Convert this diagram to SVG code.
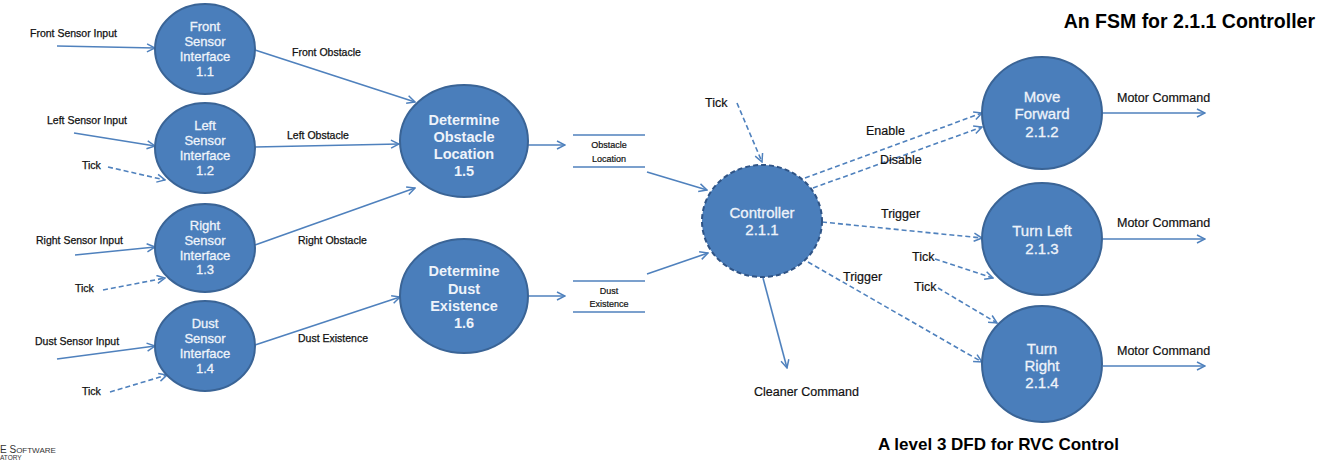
<svg xmlns="http://www.w3.org/2000/svg" width="1318" height="461" viewBox="0 0 1318 461">
<style>
.n{fill:#4a7ebb;stroke:#3a6496;stroke-width:2}
.nd{fill:#4a7ebb;stroke:#2f5486;stroke-width:2;stroke-dasharray:5 3}
.nt{fill:#eef3fa;font-family:"Liberation Sans",Arial,sans-serif;font-size:13px;text-anchor:middle;stroke:#eef3fa;stroke-width:0.3}
.nb{fill:#eef3fa;font-family:"Liberation Sans",Arial,sans-serif;font-size:14.5px;font-weight:bold;text-anchor:middle}
.nr{fill:#eef3fa;font-family:"Liberation Sans",Arial,sans-serif;font-size:15px;text-anchor:middle;stroke:#eef3fa;stroke-width:0.3}
.f{fill:none;stroke:#4f81bd;stroke-width:1.6;marker-end:url(#ah)}
.d{fill:none;stroke:#4f81bd;stroke-width:1.6;stroke-dasharray:5 3;marker-end:url(#ah)}
.st{stroke:#4f81bd;stroke-width:1.5}
.s{fill:#111;font-family:"Liberation Sans",Arial,sans-serif;font-size:10.5px;stroke:#111;stroke-width:0.25}
.m{fill:#111;font-family:"Liberation Sans",Arial,sans-serif;font-size:12.5px;stroke:#111;stroke-width:0.2}
.sm{fill:#111;font-family:"Liberation Sans",Arial,sans-serif;font-size:9px;text-anchor:middle;stroke:#111;stroke-width:0.2}
.t{fill:#000;font-family:"Liberation Sans",Arial,sans-serif;font-weight:bold}
</style>
<defs>
<marker id="ah" viewBox="0 0 10 10" refX="9" refY="5" markerWidth="10" markerHeight="10" markerUnits="userSpaceOnUse" orient="auto">
<path d="M1,1 L9,5 L1,9" fill="none" stroke="#4f81bd" stroke-width="1.5"/>
</marker>
</defs>
<rect width="1318" height="461" fill="#fff"/>

<g id="connectors">
<path class="f" d="M57,46 L155,48"/>
<path class="f" d="M255,50 L415,102"/>
<path class="f" d="M74,133 L155,146"/>
<path class="d" d="M108,167 L165,180"/>
<path class="f" d="M255,147 L399,144"/>
<path class="f" d="M75,255 L155,247"/>
<path class="d" d="M103,290 L165,278"/>
<path class="f" d="M255,245 L415,188"/>
<path class="f" d="M57,359 L155,346"/>
<path class="d" d="M110,392 L167,375"/>
<path class="f" d="M255,345 L400,297"/>
<path class="f" d="M528,145 L565,145"/>
<path class="f" d="M528,296 L565,296"/>
<path class="f" d="M647,172 L707,190"/>
<path class="f" d="M647,274 L708,253"/>
<path class="d" d="M737,103 L762,162"/>
<path class="d" d="M805,178 L982,113"/>
<path class="d" d="M813,188 L982,127"/>
<path class="d" d="M822,222 L982,238"/>
<path class="d" d="M935,259 L993,278"/>
<path class="d" d="M938,288 L997,323"/>
<path class="d" d="M808,262 L982,362"/>
<path class="f" d="M763,278 L787,368"/>
<path class="f" d="M1103,113 L1205,113"/>
<path class="f" d="M1103,239 L1205,239"/>
<path class="f" d="M1103,366 L1205,366"/>
<line class="st" x1="573" y1="135" x2="645" y2="135"/>
<line class="st" x1="573" y1="167" x2="645" y2="167"/>
<line class="st" x1="573" y1="281" x2="645" y2="281"/>
<line class="st" x1="573" y1="312" x2="645" y2="312"/>
<text class="s" x="30" y="37">Front Sensor Input</text>
<text class="s" x="292" y="56">Front Obstacle</text>
<text class="s" x="47" y="124">Left Sensor Input</text>
<text class="s" x="287" y="139">Left Obstacle</text>
<text class="s" x="82" y="169">Tick</text>
<text class="s" x="36" y="244">Right Sensor Input</text>
<text class="s" x="298" y="244">Right Obstacle</text>
<text class="s" x="75" y="292">Tick</text>
<text class="s" x="35" y="345">Dust Sensor Input</text>
<text class="s" x="298" y="342">Dust Existence</text>
<text class="s" x="82" y="395">Tick</text>
<text class="sm" x="609" y="148">Obstacle</text>
<text class="sm" x="609" y="162">Location</text>
<text class="sm" x="609" y="294">Dust</text>
<text class="sm" x="609" y="307">Existence</text>
<text class="m" x="705" y="107">Tick</text>
<text class="m" x="866" y="135">Enable</text>
<text class="m" x="880" y="164">Disable</text>
<text class="m" x="881" y="218">Trigger</text>
<text class="m" x="912" y="261">Tick</text>
<text class="m" x="843" y="281">Trigger</text>
<text class="m" x="914" y="291">Tick</text>
<text class="m" x="754" y="396">Cleaner Command</text>
<text class="m" x="1117" y="102">Motor Command</text>
<text class="m" x="1117" y="227">Motor Command</text>
<text class="m" x="1117" y="355">Motor Command</text>
</g>

<g id="n11"><ellipse class="n" cx="205" cy="49" rx="50" ry="45"/>
<text class="nt" x="205" y="31">Front</text><text class="nt" x="205" y="46">Sensor</text><text class="nt" x="205" y="61">Interface</text><text class="nt" x="205" y="76">1.1</text></g>
<g id="n12"><ellipse class="n" cx="205" cy="148" rx="50" ry="45"/>
<text class="nt" x="205" y="130">Left</text><text class="nt" x="205" y="145">Sensor</text><text class="nt" x="205" y="160">Interface</text><text class="nt" x="205" y="175">1.2</text></g>
<g id="n13"><ellipse class="n" cx="205" cy="248" rx="50" ry="44"/>
<text class="nt" x="205" y="230">Right</text><text class="nt" x="205" y="245">Sensor</text><text class="nt" x="205" y="260">Interface</text><text class="nt" x="205" y="274">1.3</text></g>
<g id="n14"><ellipse class="n" cx="205" cy="346" rx="50" ry="45"/>
<text class="nt" x="205" y="328">Dust</text><text class="nt" x="205" y="343">Sensor</text><text class="nt" x="205" y="358">Interface</text><text class="nt" x="205" y="373">1.4</text></g>
<g id="n15"><ellipse class="n" cx="464" cy="141" rx="64" ry="56"/>
<text class="nb" x="464" y="125">Determine</text><text class="nb" x="464" y="142">Obstacle</text><text class="nb" x="464" y="159">Location</text><text class="nb" x="464" y="176">1.5</text></g>
<g id="n16"><ellipse class="n" cx="464" cy="296" rx="64" ry="57"/>
<text class="nb" x="464" y="276">Determine</text><text class="nb" x="464" y="294">Dust</text><text class="nb" x="464" y="311">Existence</text><text class="nb" x="464" y="328">1.6</text></g>
<g id="n211"><ellipse class="nd" cx="762" cy="221" rx="60" ry="56"/>
<text class="nr" x="762" y="218">Controller</text><text class="nr" x="762" y="235">2.1.1</text></g>
<g id="n212"><ellipse class="n" cx="1042" cy="113" rx="60" ry="56"/>
<text class="nr" x="1042" y="102">Move</text><text class="nr" x="1042" y="119">Forward</text><text class="nr" x="1042" y="137">2.1.2</text></g>
<g id="n213"><ellipse class="n" cx="1042" cy="239" rx="60" ry="56"/>
<text class="nr" x="1042" y="236">Turn Left</text><text class="nr" x="1042" y="254">2.1.3</text></g>
<g id="n214"><ellipse class="n" cx="1042" cy="364" rx="60" ry="58"/>
<text class="nr" x="1042" y="354">Turn</text><text class="nr" x="1042" y="371">Right</text><text class="nr" x="1042" y="388">2.1.4</text></g>

<text class="t" x="1315" y="28" font-size="19.5" text-anchor="end">An FSM for 2.1.1 Controller</text>
<text class="t" x="878" y="450" font-size="17">A level 3 DFD for RVC Control</text>
<text x="0" y="453" fill="#333" font-family="Liberation Sans,Arial,sans-serif" font-size="10">E S<tspan font-size="8">OFTWARE</tspan></text>
<text x="0" y="460" fill="#333" font-family="Liberation Sans,Arial,sans-serif" font-size="6.5">ATORY</text>
</svg>
